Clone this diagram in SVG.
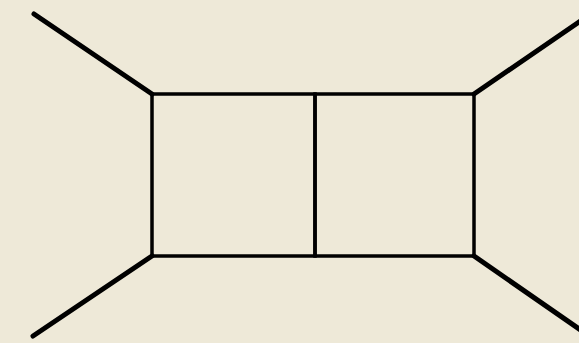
<svg xmlns="http://www.w3.org/2000/svg" width="579" height="343" viewBox="0 0 579 343">
<style>
.ext{stroke:#000;stroke-width:5;stroke-linecap:round;fill:none}
.box{stroke:#000;stroke-width:3.5;fill:none;stroke-linecap:square}
</style>
<rect width="579" height="343" fill="#EEE9D8"/>
<g id="connectors">
<line class="ext" x1="34" y1="14" x2="152" y2="94"/>
<line class="ext" x1="474" y1="94" x2="582" y2="20"/>
<line class="ext" x1="33" y1="336" x2="152" y2="256"/>
<line class="ext" x1="474" y1="256" x2="582" y2="331"/>
</g>
<g id="box-left"><rect class="box" x="152" y="94" width="163" height="162"/></g>
<g id="box-right"><rect class="box" x="315" y="94" width="159" height="162"/></g>
</svg>
